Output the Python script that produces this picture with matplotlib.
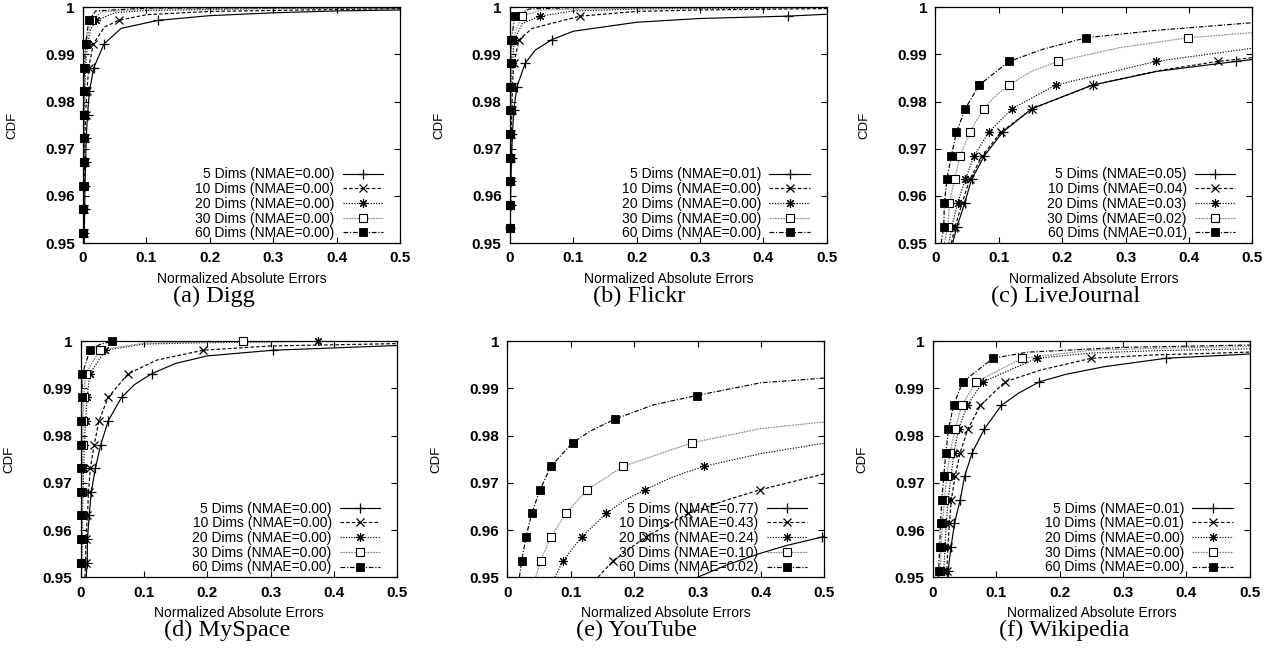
import matplotlib.pyplot as plt
from matplotlib.lines import Line2D

plt.rcParams['font.family'] = ['Liberation Sans', 'DejaVu Sans']

dims = [5, 10, 20, 30, 60]
captions = ['(a) Digg', '(b) Flickr', '(c) LiveJournal',
            '(d) MySpace', '(e) YouTube', '(f) Wikipedia']
nmae = [
    ['0.00', '0.00', '0.00', '0.00', '0.00'],
    ['0.01', '0.00', '0.00', '0.00', '0.00'],
    ['0.05', '0.04', '0.03', '0.02', '0.01'],
    ['0.00', '0.00', '0.00', '0.00', '0.00'],
    ['0.77', '0.43', '0.24', '0.10', '0.02'],
    ['0.01', '0.01', '0.00', '0.00', '0.00'],
]
x_ticks = [0, 0.1, 0.2, 0.3, 0.4, 0.5]
x_labels = ['0', '0.1', '0.2', '0.3', '0.4', '0.5']
y_ticks = [0.95, 0.96, 0.97, 0.98, 0.99, 1.0]
y_labels = ['0.95', '0.96', '0.97', '0.98', '0.99', '1']

# (a) Digg: CDF levels with point marks, x of each series at those levels
digg_levels = [0.9522, 0.9572, 0.9622, 0.9672, 0.9722, 0.9772, 0.9822, 0.9872, 0.9922, 0.9972]
digg_marks = [
    [0.002, 0.0025, 0.003, 0.004, 0.005, 0.007, 0.010, 0.017, 0.033, 0.118],
    [0.001, 0.0015, 0.002, 0.0025, 0.003, 0.004, 0.006, 0.009, 0.016, 0.056],
    [0.0005, 0.0008, 0.001, 0.001, 0.0015, 0.002, 0.003, 0.004, 0.007, 0.021],
    [0.0004, 0.0006, 0.0008, 0.001, 0.0012, 0.0015, 0.002, 0.003, 0.005, 0.013],
    [0.0003, 0.0005, 0.0006, 0.0008, 0.001, 0.001, 0.0012, 0.002, 0.004, 0.009],
]
digg_extra_x = [
    [0.0015, 0.06, 0.2, 0.3, 0.4, 0.5],
    [0.0008, 0.034, 0.1, 0.2, 0.5],
    [0.0004, 0.012, 0.05, 0.1, 0.3, 0.5],
    [0.0003, 0.03, 0.1, 0.5],
    [0.0002, 0.02, 0.1, 0.5],
]
digg_extra_y = [
    [0.945, 0.9955, 0.9982, 0.9988, 0.9992, 0.9994],
    [0.945, 0.9958, 0.9984, 0.9991, 0.9997],
    [0.945, 0.9953, 0.9988, 0.9993, 0.9997, 0.9998],
    [0.945, 0.9990, 0.9996, 0.9999],
    [0.945, 0.9992, 0.9998, 0.99995],
]

# (b) Flickr
flickr_levels = [0.9531, 0.9581, 0.9631, 0.9681, 0.9731, 0.9781, 0.9831, 0.9881, 0.9931, 0.9981]
flickr_marks = [
    [0.0005, 0.001, 0.0015, 0.0025, 0.004, 0.006, 0.011, 0.024, 0.066, 0.439],
    [0.0004, 0.0008, 0.001, 0.0015, 0.002, 0.003, 0.004, 0.006, 0.0145, 0.111],
    [0.0003, 0.0005, 0.0008, 0.001, 0.0012, 0.0015, 0.002, 0.004, 0.007, 0.048],
    [0.0002, 0.0003, 0.0005, 0.0006, 0.0008, 0.001, 0.0015, 0.002, 0.004, 0.0185],
    [0.0001, 0.0002, 0.0003, 0.0004, 0.0005, 0.0006, 0.0008, 0.001, 0.002, 0.008],
]
flickr_extra_x = [
    [0.0003, 0.04, 0.1, 0.2, 0.3, 0.5],
    [0.0002, 0.035, 0.061, 0.2, 0.3, 0.5],
    [0.0002, 0.02, 0.1, 0.2, 0.5],
    [0.0001, 0.05, 0.2, 0.5],
    [0.0001, 0.03, 0.1, 0.5],
]
flickr_extra_y = [
    [0.945, 0.9909, 0.9949, 0.9968, 0.9976, 0.9985],
    [0.945, 0.9955, 0.9964, 0.9991, 0.9994, 0.9997],
    [0.945, 0.9966, 0.9992, 0.9996, 0.9999],
    [0.945, 0.9994, 0.9998, 0.99995],
    [0.945, 0.9996, 0.9999, 1.0],
]

# (c) LiveJournal
lj_levels = [0.9535, 0.9585, 0.9635, 0.9685, 0.9735, 0.9785, 0.9835, 0.9885, 0.9935]
lj_marks = [
    [0.034, 0.046, 0.057, 0.077, 0.106, 0.152, 0.248, 0.474, None],
    [0.031, 0.042, 0.054, 0.074, 0.103, 0.153, 0.248, 0.445, None],
    [0.026, 0.035, 0.047, 0.061, 0.084, 0.121, 0.190, 0.348, None],
    [0.0194, 0.022, 0.030, 0.039, 0.054, 0.076, 0.116, 0.193, 0.398],
    [0.013, 0.014, 0.018, 0.025, 0.033, 0.047, 0.069, 0.116, 0.237],
]
lj_extra_x = [
    [0.027, 0.35, 0.5],
    [0.025, 0.35, 0.5],
    [0.021, 0.26, 0.5],
    [0.014, 0.095, 0.15, 0.29, 0.5],
    [0.009, 0.17, 0.35, 0.5],
]
lj_extra_y = [
    [0.95, 0.9864, 0.9889],
    [0.95, 0.9865, 0.9893],
    [0.95, 0.9857, 0.9913],
    [0.95, 0.9812, 0.9863, 0.9914, 0.9946],
    [0.95, 0.9911, 0.9951, 0.9967],
]

# (d) MySpace
ms_levels = [0.9531, 0.9581, 0.9631, 0.9681, 0.9731, 0.9781, 0.9831, 0.9881, 0.9931, 0.9981, 1.0]
ms_marks = [
    [0.0105, 0.011, 0.0137, 0.017, 0.0235, 0.032, 0.0436, 0.0647, 0.112, 0.304, None],
    [0.008, 0.0085, 0.011, 0.0126, 0.0155, 0.0216, 0.029, 0.0436, 0.075, 0.1935, None],
    [0.002, 0.003, 0.003, 0.004, 0.005, 0.006, 0.008, 0.0105, 0.0147, 0.039, 0.375],
    [0.0015, 0.002, 0.002, 0.0025, 0.003, 0.0035, 0.004, 0.005, 0.008, 0.030, 0.2566],
    [0.0005, 0.0006, 0.0008, 0.001, 0.001, 0.0012, 0.0015, 0.002, 0.003, 0.0147, 0.05],
]
ms_extra_x = [
    [0.009, 0.085, 0.15, 0.2, 0.5],
    [0.007, 0.12, 0.3, 0.5],
    [0.0015, 0.1, 0.2, 0.5],
    [0.001, 0.1, 0.5],
    [0.0003, 0.03, 0.5],
]
ms_extra_y = [
    [0.95, 0.9908, 0.9953, 0.9969, 0.9991],
    [0.95, 0.996, 0.999, 0.9995],
    [0.95, 0.9994, 0.9997, 1.0],
    [0.95, 0.9996, 1.0],
    [0.95, 0.9993, 1.0],
]

# (e) YouTube
yt_levels = [0.9535, 0.9585, 0.9635, 0.9685, 0.9735, 0.9785, 0.9835, 0.9885]
yt_marks = [
    [None, 0.496, None, None, None, None, None, None],
    [0.167, 0.218, 0.285, 0.398, None, None, None, None],
    [0.088, 0.117, 0.156, 0.2167, 0.310, None, None, None],
    [0.0525, 0.0687, 0.0918, 0.126, 0.1826, 0.2917, None, None],
    [0.0226, 0.0294, 0.0383, 0.0514, 0.0687, 0.1028, 0.1695, 0.2985],
]
yt_extra_x = [
    [0.30, 0.35, 0.4, 0.44, 0.5],
    [0.143, 0.34, 0.5],
    [0.075, 0.185, 0.26, 0.4, 0.5],
    [0.0446, 0.4, 0.5],
    [0.019, 0.13, 0.23, 0.4, 0.5],
]
yt_extra_y = [
    [0.95, 0.9528, 0.9551, 0.9567, 0.9588],
    [0.95, 0.9661, 0.9719],
    [0.95, 0.9663, 0.9712, 0.9762, 0.9784],
    [0.95, 0.9815, 0.9829],
    [0.95, 0.9809, 0.9865, 0.9912, 0.9922],
]

# (f) Wikipedia
wiki_levels = [0.9514, 0.9564, 0.9614, 0.9664, 0.9714, 0.9764, 0.9814, 0.9864, 0.9914, 0.9964]
wiki_marks = [
    [0.024, 0.0285, 0.034, 0.043, 0.050, 0.062, 0.081, 0.108, 0.168, 0.368],
    [0.022, 0.0235, 0.026, 0.029, 0.035, 0.043, 0.055, 0.075, 0.1135, 0.25],
    [0.017, 0.019, 0.021, 0.024, 0.0285, 0.033, 0.0405, 0.054, 0.079, 0.164],
    [0.0116, 0.013, 0.015, 0.018, 0.022, 0.027, 0.035, 0.0455, 0.068, 0.141],
    [0.009, 0.0105, 0.012, 0.014, 0.017, 0.0205, 0.0245, 0.0325, 0.047, 0.095],
]
wiki_extra_x = [
    [0.022, 0.135, 0.21, 0.27, 0.5],
    [0.020, 0.17, 0.35, 0.5],
    [0.015, 0.25, 0.35, 0.5],
    [0.010, 0.25, 0.35, 0.5],
    [0.008, 0.15, 0.3, 0.5],
]
wiki_extra_y = [
    [0.948, 0.989, 0.9930, 0.9946, 0.9973],
    [0.948, 0.9939, 0.9971, 0.9977],
    [0.948, 0.9975, 0.998, 0.9984],
    [0.948, 0.9981, 0.9985, 0.9989],
    [0.948, 0.9977, 0.9987, 0.9992],
]

panels = [
    (digg_levels, digg_marks, digg_extra_x, digg_extra_y),
    (flickr_levels, flickr_marks, flickr_extra_x, flickr_extra_y),
    (lj_levels, lj_marks, lj_extra_x, lj_extra_y),
    (ms_levels, ms_marks, ms_extra_x, ms_extra_y),
    (yt_levels, yt_marks, yt_extra_x, yt_extra_y),
    (wiki_levels, wiki_marks, wiki_extra_x, wiki_extra_y),
]

line_styles = [
    dict(color='black', ls='-'),
    dict(color='black', ls=(0, (3, 1.8))),
    dict(color='black', ls=(0, (1, 1.3))),
    dict(color='#8a8a8a', ls=(0, (1.5, 0.8))),
    dict(color='black', ls=(0, (4, 1.5, 1, 1.5))),
]
marker_styles = [
    dict(marker='+', ms=7, mew=0.9, mec='black'),
    dict(marker='x', ms=5.5, mew=0.9, mec='black'),
    dict(marker=(8, 2, 0), ms=6.5, mew=0.8, mec='black'),
    dict(marker='s', ms=5.4, mew=0.8, mfc='white', mec='black'),
    dict(marker='s', ms=5.6, mew=0.6, mfc='black', mec='black'),
]

# axes rectangles in figure fractions
lefts = [0.065, 0.399, 0.732, 0.063, 0.397, 0.730]
bottoms = [0.626, 0.626, 0.626, 0.112, 0.112, 0.112]
width, height = 0.248, 0.363
cap_x = [214, 639, 1066, 227, 637, 1064]
cap_y = [296, 296, 296, 630, 630, 630]

fig = plt.figure(figsize=(12.78, 6.5), dpi=100)

for p, (levels, marks, ex, ey) in enumerate(panels):
    ax = fig.add_axes([lefts[p], bottoms[p], width, height])
    handles = []
    for i in range(5):
        pts = [(x, y) for x, y in zip(marks[i], levels) if x is not None]
        mx = [q[0] for q in pts]
        my = [q[1] for q in pts]
        pts = pts + list(zip(ex[i], ey[i]))
        pts.sort(key=lambda q: (q[1], q[0]))
        ax.plot([q[0] for q in pts], [q[1] for q in pts], lw=0.85, **line_styles[i])
        ax.plot(mx, my, ls='none', clip_on=False, zorder=3, **marker_styles[i])
        handles.append(Line2D([], [], lw=0.85, **line_styles[i], **marker_styles[i]))
    labels = ['%d Dims (NMAE=%s)' % (d, v) for d, v in zip(dims, nmae[p])]
    ax.legend(handles, labels, loc='lower right', bbox_to_anchor=(0.946, 0.012),
              frameon=False, markerfirst=False, fontsize=10, handlelength=2.9,
              handletextpad=0.6, labelspacing=0.05, borderpad=0, borderaxespad=0)
    ax.set_xlim(0, 0.5)
    ax.set_ylim(0.95, 1.0)
    ax.set_xticks(x_ticks)
    ax.set_xticklabels(x_labels, fontweight='bold')
    ax.set_yticks(y_ticks)
    ax.set_yticklabels(y_labels, fontweight='bold')
    ax.tick_params(direction='in', top=True, right=True, length=4.5, width=0.8,
                   pad=6, labelsize=11)
    for s in ax.spines.values():
        s.set_linewidth(0.9)
    ax.set_xlabel('Normalized Absolute Errors', fontsize=10)
    ax.set_ylabel('CDF', fontsize=9.5)
    ax.xaxis.set_label_coords(0.5, -0.122)
    ax.yaxis.set_label_coords(-0.205, 0.5)
    fig.text(cap_x[p] / 1278, 1 - cap_y[p] / 650, captions[p], ha='center', va='center',
             fontsize=17.5, family='Liberation Serif')

fig.savefig('out.png', dpi=100)
